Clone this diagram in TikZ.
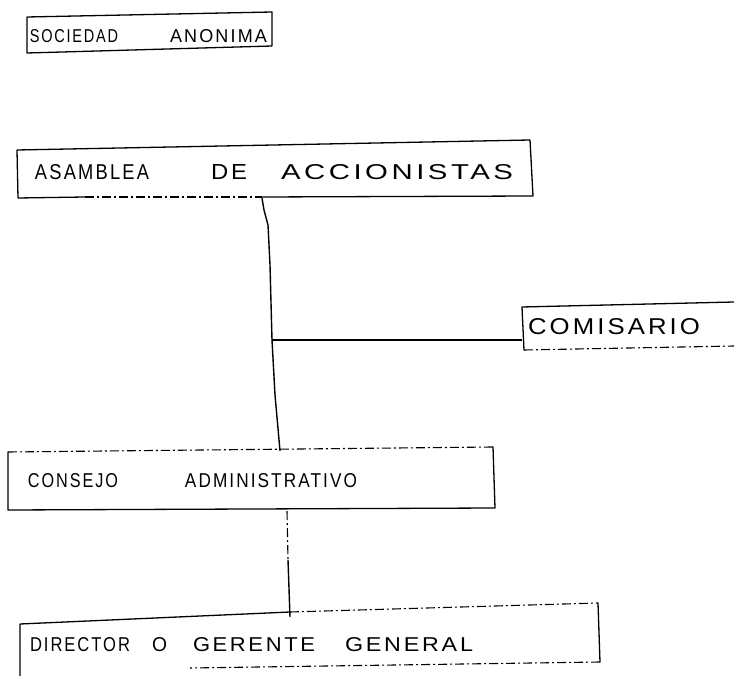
\documentclass[tikz,border=0pt]{standalone}
\usepackage{fontspec}
\usepackage{graphicx}
\setmainfont{Liberation Sans}[LetterSpace=12]
\newcommand\wrd[3]{\resizebox{#1pt}{#2pt}{#3}}
\begin{document}
\begin{tikzpicture}[x=1pt,y=-1pt,
  box/.style={draw=none, inner sep=0pt, anchor=center},
  edge/.style={line width=1.3pt, line join=round, line cap=round},
  faint/.style={line width=1.1pt, dash pattern=on 9pt off 3pt on 2pt off 3pt},
  link/.style={line width=1.4pt, line join=round}]
\useasboundingbox (0,0) rectangle (734,676);

% ---- boxes (text nodes spanning the box width) ----
\node[box, minimum height=36pt] (soc) at (149.5,36)
  {\makebox[245pt][l]{\hspace{3pt}\wrd{88}{13}{SOCIEDAD}\hspace{52pt}\wrd{97}{13}{ANONIMA}}};
\draw[edge] (27,17) -- (272,12) -- (272,46) -- (27,53) -- cycle;

\node[box, minimum height=52pt] (asam) at (275,172)
  {\makebox[514pt][l]{\hspace{17pt}\wrd{114}{15}{ASAMBLEA}\hspace{62pt}\wrd{36}{15}{DE}\hspace{34pt}\wrd{232}{15}{ACCIONISTAS}}};
\draw[edge] (85,197) -- (18,198) -- (17,150) -- (530,140) -- (533,196) -- (262,197);
\draw[faint] (85,197) -- (262,197);

\node[box, minimum height=44pt] (com) at (628,327)
  {\makebox[212pt][l]{\hspace{6pt}\wrd{172}{16}{COMISARIO}}};
\draw[edge] (734,302) -- (522,307) -- (524,350);
\draw[faint] (524,350) -- (734,346);

\node[box, minimum height=60pt] (cons) at (251.5,481)
  {\makebox[487pt][l]{\hspace{20pt}\wrd{90}{14}{CONSEJO}\hspace{67pt}\wrd{172}{14}{ADMINISTRATIVO}}};
\draw[edge] (8,452) -- (8,510) -- (495,508) -- (493,447);
\draw[faint] (8,452) -- (493,447);

\node[box, minimum height=56pt] (dir) at (309,645)
  {\makebox[578pt][l]{\hspace{10pt}\wrd{100}{14}{DIRECTOR}\hspace{22pt}\wrd{15}{14}{O}\hspace{26pt}\wrd{122}{14}{GERENTE}\hspace{30pt}\wrd{128}{14}{GENERAL}}};
\draw[edge] (20,676) -- (20,624) -- (290,612);
\draw[faint] (290,612) -- (598,603);
\draw[edge] (598,603) -- (600,662);
\draw[faint] (600,662) -- (190,668);

% ---- connectors ----
\coordinate (br) at (272,340);
\draw[link] ([xshift=-13pt]asam.south) -- (264,210) -- (268,225) -- (270,265) -- (br)
  -- (275,395) -- ([xshift=28.5pt]cons.north);
\draw[link] (br) -- (br -| com.west);
\coordinate (mid) at (288,560);
\draw[faint] ([xshift=35.5pt]cons.south) -- (mid);
\draw[link] (mid) -- ([xshift=-19pt]dir.north);
\end{tikzpicture}
\end{document}
